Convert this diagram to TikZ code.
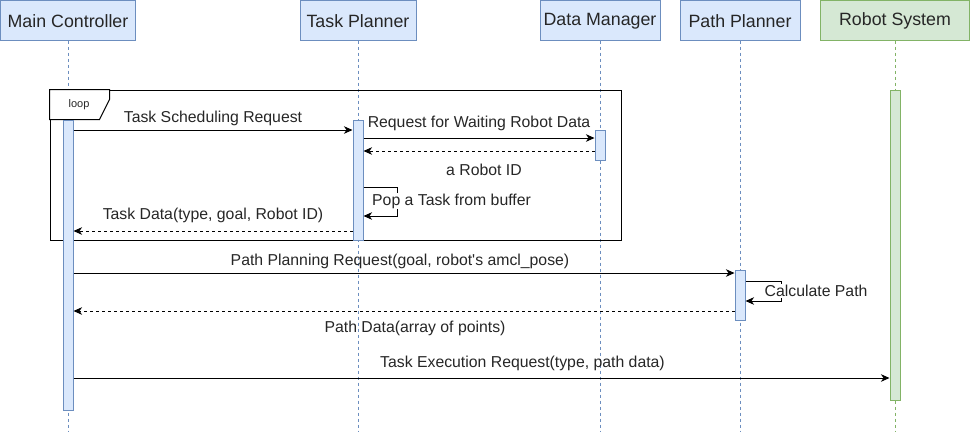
\documentclass[tikz,border=0pt]{standalone}
\usepackage{fontspec}
\setmainfont{Liberation Sans}
\usepackage{tikz}
\usetikzlibrary{positioning,calc}
\usetikzlibrary{arrows.meta}
\definecolor{bluefill}{HTML}{DAE8FC}
\definecolor{blueline}{HTML}{6C8EBF}
\definecolor{greenfill}{HTML}{D5E8D4}
\definecolor{greenline}{HTML}{82B366}
\tikzstyle{participant} = [rectangle, minimum width=120pt, minimum height=40pt, text height=15pt, text centered, draw=blueline, fill=bluefill, line width=1pt, text=black!85, font=\fontsize{17.8}{20}\selectfont]
\tikzstyle{activation} = [rectangle, minimum width=10pt, inner sep=0pt, draw=blueline, fill=bluefill, line width=1pt]
\tikzstyle{lifeline} = [draw=blueline, line width=0.8pt, dash pattern=on 3pt off 3pt]
\tikzstyle{message} = [line width=1pt, -{Stealth[length=8.5pt,width=7.5pt,inset=2.5pt]}]
\tikzstyle{reply} = [message, dash pattern=on 3pt off 3pt]
\tikzstyle{label} = [text=black!85]

\begin{document}
\begin{tikzpicture}[x=1pt, y=-1pt, font=\fontsize{15.8}{18}\selectfont]
\useasboundingbox (0,0) rectangle (971,431);
% participants
\node (mc) at (68,20) [participant, minimum width=135pt] {Main Controller};
\node (tp) at (358,20) [participant, minimum width=116pt] {Task Planner};
\node (dm) at (600,20) [participant] {Data Manager};
\node (pp) at (740,20) [participant] {Path Planner};
\node (rs) at (895,20) [participant, minimum width=149pt, draw=greenline, fill=greenfill] {Robot System};
% lifelines
\draw[lifeline] (mc.south) -- (mc.south |- 0,431);
\draw[lifeline] (tp.south) -- (tp.south |- 0,431);
\draw[lifeline] (dm.south) -- (dm.south |- 0,431);
\draw[lifeline] (pp.south) -- (pp.south |- 0,431);
\draw[lifeline, draw=greenline] (rs.south) -- (rs.south |- 0,431);
% loop frame
\node (loop) at (335.5,165) [draw, line width=1pt, minimum width=571pt, minimum height=150pt] {};
\draw[fill=white, line width=1pt] (loop.north west) -- ++(60,0) -- ++(0,10) -- ++(-10,20) -- ++(-50,0) -- cycle;
\node (looptag) at (79,105) [label, font=\fontsize{11}{13}\selectfont] {loop};
% activations
\node (mcA) at (68,265) [activation, minimum height=290pt] {};
\node (tpA) at (358,180) [activation, minimum height=120pt] {};
\node (dmA) at (600,145) [activation, minimum height=30pt] {};
\node (ppA) at (740,295) [activation, minimum height=50pt] {};
\node (rsA) at (895,245) [activation, minimum height=310pt, draw=greenline, fill=greenfill] {};
% messages
\draw[message] (mcA.east |- 0,130) -- node[label, above=0pt] {Task Scheduling Request} (tpA.west |- 0,130);
\draw[message] (tpA.east |- 0,138) -- node[label, above=3pt] {Request for Waiting Robot Data} (dmA.west |- 0,138);
\draw[reply] (dmA.west |- 0,151) -- node[label, below=9pt, xshift=5pt] {a Robot ID} (tpA.east |- 0,151);
\draw[message] (tpA.east |- 0,187) -- ++(34,0) |- (tpA.east |- 0,216);
\node (pop) at (371,201) [label, anchor=west, fill=white, inner sep=1pt] {Pop a Task from buffer};
\draw[reply] (tpA.west |- 0,231) -- node[label, above=4pt] {Task Data(type, goal, Robot ID)} (mcA.east |- 0,231);
\draw[message] (mcA.east |- 0,273) -- node[label, above=0pt, xshift=-4pt] {Path Planning Request(goal, robot\textquotesingle s amcl\_pose)} (ppA.west |- 0,273);
\draw[message] (ppA.east |- 0,281) -- ++(36,0) |- (ppA.east |- 0,301);
\node (calc) at (763,291) [label, anchor=west, fill=white, inner sep=1.5pt] {Calculate Path};
\draw[reply] (ppA.west |- 0,311) -- node[label, below=6pt, xshift=11pt] {Path Data(array of points)} (mcA.east |- 0,311);
\draw[message] (mcA.east |- 0,378) -- node[label, above=3pt, xshift=41pt] {Task Execution Request(type, path data)} (rsA.west |- 0,378);
\end{tikzpicture}
\end{document}
